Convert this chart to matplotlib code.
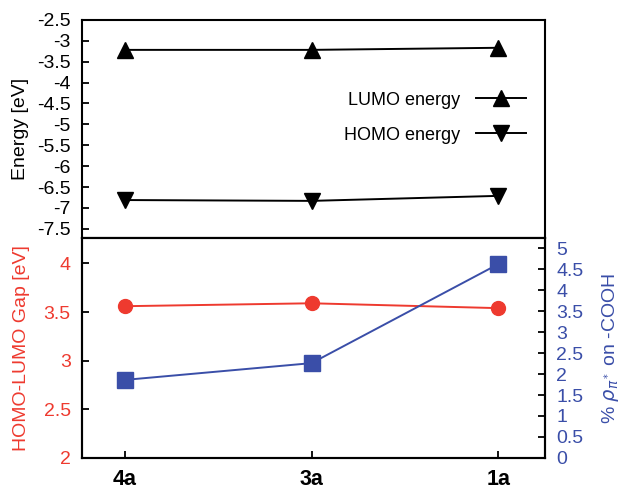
import matplotlib.pyplot as plt

plt.rcParams['font.family'] = ['Liberation Sans', 'DejaVu Sans']

labels = ['4a', '3a', '1a']
lumo = [-3.22, -3.22, -3.17]
homo = [-6.81, -6.83, -6.71]
gap = [3.56, 3.59, 3.54]
rho = [1.86, 2.26, 4.62]

red = '#ee3a2f'
blue = '#3a4ea8'
x = range(len(labels))

fig = plt.figure(figsize=(6.25, 4.94), dpi=100)
ax1 = fig.add_axes([0.131, 0.518, 0.741, 0.442])
ax2 = fig.add_axes([0.131, 0.073, 0.741, 0.445])
ax3 = ax2.twinx()

# top panel: orbital energies
ax1.plot(x, lumo, color='black', marker='^', ms=11, lw=1.4, label='LUMO energy')
ax1.plot(x, homo, color='black', marker='v', ms=11, lw=1.4, label='HOMO energy')
ax1.set_xlim(-0.23, 2.25)
ax1.set_ylim(-7.72, -2.5)
ax1.set_yticks([-2.5, -3, -3.5, -4, -4.5, -5, -5.5, -6, -6.5, -7, -7.5])
ax1.set_yticklabels(['-2.5', '-3', '-3.5', '-4', '-4.5', '-5', '-5.5', '-6', '-6.5', '-7', '-7.5'])
ax1.set_xticks([])
ax1.tick_params(axis='y', direction='in', length=5, width=1.3, labelsize=14, pad=8)
ax1.set_ylabel('Energy [eV]', fontsize=14, labelpad=6)
ax1.legend(loc='upper right', bbox_to_anchor=(0.995, 0.745), frameon=False, markerfirst=False,
           fontsize=13, handlelength=2.8, handletextpad=0.9, labelspacing=1.0)

# bottom panel: gap and density
ax2.plot(x, gap, color=red, marker='o', ms=10, lw=1.4)
ax3.plot(x, rho, color=blue, marker='s', ms=11, lw=1.4)
ax2.set_xlim(-0.23, 2.25)
ax2.set_ylim(2, 4.26)
ax2.set_yticks([2, 2.5, 3, 3.5, 4])
ax2.set_yticklabels(['2', '2.5', '3', '3.5', '4'])
ax3.set_ylim(0, 5.24)
ax3.set_yticks([0, 0.5, 1, 1.5, 2, 2.5, 3, 3.5, 4, 4.5, 5])
ax3.set_yticklabels(['0', '0.5', '1', '1.5', '2', '2.5', '3', '3.5', '4', '4.5', '5'])
ax2.set_xticks(list(x))
ax2.set_xticklabels(labels, fontweight='bold', fontsize=15.5)
ax2.tick_params(axis='x', direction='in', length=5, width=1.3, pad=8)
ax2.tick_params(axis='y', direction='in', length=5, width=1.3, labelsize=14, pad=8, labelcolor=red)
ax3.tick_params(axis='y', direction='in', length=5, width=1.3, labelsize=14, pad=8, labelcolor=blue)
ax2.set_ylabel('HOMO-LUMO Gap [eV]', color=red, fontsize=14, labelpad=10)
ax3.set_ylabel(r'% $\rho_{\pi^*}$ on -COOH', color=blue, fontsize=14, labelpad=12)

for a in (ax1, ax2, ax3):
    for s in a.spines.values():
        s.set_linewidth(1.5)

fig.savefig('out.png', dpi=100)
